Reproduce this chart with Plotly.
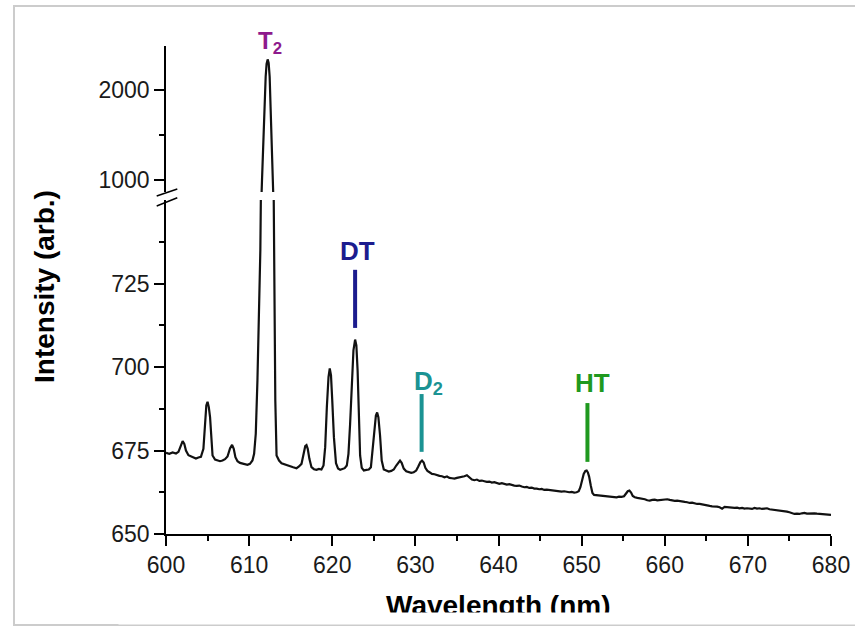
import plotly.graph_objects as go

# ---- data ----
wavelength = [
    600.0, 600.4, 600.8, 601.2, 601.5, 601.8, 602.0, 602.2, 602.4, 602.7,
    603.0, 603.3, 603.6, 603.9, 604.2, 604.5, 604.7, 604.85, 605.0, 605.15,
    605.3, 605.45, 605.6, 605.9, 606.2, 606.5, 606.8, 607.1, 607.4, 607.7,
    607.95, 608.15, 608.35, 608.6, 608.9, 609.2, 609.5, 609.8, 610.1, 610.4,
    610.6, 610.8, 611.0, 611.2, 611.35, 611.47, 611.55, 611.64, 611.7, 611.87,
    611.99, 612.1, 612.23, 612.35, 612.47, 612.58, 612.7, 612.77, 612.84, 612.93,
    613.05, 613.15, 613.3, 613.6, 613.9, 614.2, 614.5, 614.9, 615.3, 615.7,
    616.0, 616.3, 616.55, 616.75, 616.9, 617.05, 617.25, 617.5, 617.8, 618.1,
    618.4, 618.7, 618.95, 619.15, 619.35, 619.55, 619.7, 619.85, 620.0, 620.2,
    620.45, 620.7, 620.95, 621.2, 621.5, 621.75, 621.95, 622.15, 622.35, 622.55,
    622.75, 622.9, 623.05, 623.2, 623.35, 623.55, 623.8, 624.1, 624.4, 624.65,
    624.85, 625.05, 625.25, 625.4, 625.55, 625.75, 625.95, 626.2, 626.5, 626.8,
    627.1, 627.4, 627.7, 627.95, 628.15, 628.35, 628.6, 628.9, 629.2, 629.5,
    629.8, 630.1, 630.35, 630.6, 630.8, 631.0, 631.2, 631.45, 631.7, 632.0,
    632.3, 632.6, 632.9, 633.2, 633.5, 633.8, 634.1, 634.4, 634.7, 635.0,
    635.3, 635.6, 635.9, 636.2, 636.5, 636.8, 637.1, 637.4, 637.7, 638.0,
    638.3, 638.6, 638.9, 639.2, 639.5, 639.8, 640.1, 640.4, 640.7, 641.0,
    641.3, 641.6, 641.9, 642.2, 642.5, 642.8, 643.1, 643.4, 643.7, 644.0,
    644.3, 644.6, 644.9, 645.2, 645.5, 645.8, 646.1, 646.4, 646.7, 647.0,
    647.3, 647.6, 647.9, 648.2, 648.5, 648.8, 649.1, 649.4, 649.65, 649.85,
    650.05, 650.25, 650.45, 650.6, 650.75, 650.9, 651.1, 651.3, 651.5, 651.8,
    652.1, 652.4, 652.7, 653.0, 653.3, 653.6, 653.9, 654.2, 654.5, 654.8,
    655.1, 655.35, 655.55, 655.75, 655.95, 656.15, 656.4, 656.7, 657.0, 657.3,
    657.6, 657.9, 658.2, 658.5, 658.8, 659.1, 659.4, 659.7, 660.0, 660.3,
    660.6, 660.9, 661.2, 661.5, 661.8, 662.1, 662.4, 662.7, 663.0, 663.3,
    663.6, 663.9, 664.2, 664.5, 664.8, 665.1, 665.4, 665.7, 666.0, 666.3,
    666.6, 666.9, 667.2, 667.5, 667.8, 668.1, 668.4, 668.7, 669.0, 669.3,
    669.6, 669.9, 670.2, 670.5, 670.8, 671.1, 671.4, 671.7, 672.0, 672.3,
    672.6, 672.9, 673.2, 673.5, 673.8, 674.1, 674.4, 674.7, 675.0, 675.3,
    675.6, 675.9, 676.2, 676.5, 676.8, 677.1, 677.4, 677.7, 678.0, 678.3,
    678.6, 678.9, 679.2, 679.5, 679.8, 680.0,
]
intensity = [
    674.3, 674.0, 674.4, 674.1, 674.6, 676.8, 677.8, 677.0, 675.0, 673.6,
    673.2, 672.8, 672.6, 672.9, 673.1, 675.5, 684.0, 688.5, 689.6, 688.0,
    685.0, 679.0, 673.5, 672.3, 672.0, 671.8, 672.0, 672.4, 673.2, 675.6,
    676.7, 675.5, 673.0, 671.8, 671.3, 671.1, 670.8, 670.7, 671.0, 672.0,
    674.0, 680.0, 696.0, 722.0, 735.0, 765.0, 1000.0, 1259.0, 1481.0, 1814.0,
    2148.0, 2290.0, 2340.0, 2300.0, 2148.0, 1814.0, 1481.0, 1259.0, 1000.0, 760.0,
    720.0, 690.0, 673.5, 672.0, 671.2, 670.9, 670.6, 670.4, 670.0, 669.7,
    670.2, 671.0, 674.0, 676.3, 676.6, 675.5, 672.5, 670.0, 669.4, 669.2,
    669.5, 669.3, 670.5, 676.0, 688.0, 697.0, 699.6, 697.5, 690.0, 679.0,
    671.2, 669.6, 669.2, 669.4, 669.7, 670.5, 674.0, 683.0, 697.0, 705.0,
    708.2, 706.5, 699.0, 685.0, 673.5, 669.8, 669.0, 669.2, 669.3, 670.0,
    675.0, 681.5, 685.5, 686.4, 685.0, 679.5, 672.0, 669.3, 668.9, 668.7,
    668.9, 669.3, 670.5, 671.5, 672.0, 671.3, 669.6, 668.8, 668.6, 668.3,
    668.5, 669.0, 670.2, 671.5, 672.0, 671.4, 669.8, 668.9, 668.5, 668.0,
    667.9, 667.6, 667.4, 667.3, 667.0, 667.2, 666.8, 666.7, 666.6, 666.8,
    666.9, 667.0, 667.3, 667.6, 666.9, 666.3, 666.1, 666.3, 665.9, 666.0,
    665.8, 665.6, 665.7, 665.4, 665.5, 665.2, 665.0, 665.2, 664.9, 664.8,
    664.9, 664.6, 664.5, 664.4, 664.5, 664.2, 664.0, 664.1, 663.8, 663.9,
    663.6, 663.6, 663.4, 663.5, 663.2, 663.3, 663.2, 663.0, 662.9, 663.0,
    662.8, 662.7, 662.8, 662.6, 662.5, 662.6, 662.4, 662.5, 662.8, 664.0,
    666.0, 668.0, 668.9, 669.0, 668.4, 667.2, 664.5, 662.3, 661.7, 661.6,
    661.5, 661.4, 661.4, 661.2, 661.3, 661.1, 661.0, 661.0, 661.2, 661.1,
    661.3, 662.0, 662.8, 663.0, 662.4, 661.4, 661.0, 660.8, 660.7, 660.6,
    660.4, 660.1, 660.0, 660.2, 660.3, 660.1, 660.2, 660.4, 660.3, 660.4,
    660.2, 660.0, 659.9, 660.0, 659.8, 659.7, 659.6, 659.5, 659.3, 659.4,
    659.1, 659.0, 659.0, 658.8, 658.6, 658.6, 658.4, 658.3, 658.3, 658.2,
    658.0, 657.6, 658.1, 658.0, 657.9, 657.9, 657.8, 657.9, 657.7, 657.8,
    657.6, 657.7, 657.7, 657.5, 657.8, 657.6, 657.7, 657.5, 657.6, 657.7,
    657.4, 657.3, 657.2, 657.3, 657.0, 657.0, 656.9, 656.7, 656.5, 656.3,
    656.0, 656.1, 656.0, 656.2, 656.3, 656.1, 656.2, 656.3, 656.2, 656.1,
    656.0, 655.9, 655.8, 655.8, 655.6, 655.7,
]

x_ticks = [600, 610, 620, 630, 640, 650, 660, 670, 680]
y_low_ticks = [650, 675, 700, 725]
y_high_ticks = [1000, 2000]

# labelled lines: name, colour, wavelength of marker line
label_names = ["DT", "D<sub>2</sub>", "HT"]
label_colors = ["#1c1c8e", "#1b9393", "#1f991f"]
label_wl = [622.75, 630.75, 650.7]

FONT = "Arial, Liberation Sans, sans-serif"

# pixel -> paper helpers (plot area: x 166..831, y 46..534)
L, R, T, B = 166, 831, 46, 534
def px(xp):
    return (xp - L) / (R - L)
def py(yp):
    return (B - yp) / (B - T)

fig = go.Figure()
for ax in ["y", "y2"]:
    fig.add_trace(go.Scatter(
        x=wavelength, y=intensity, mode="lines", yaxis=ax, xaxis="x",
        line=dict(color="#111111", width=2.2), showlegend=False, hoverinfo="skip"))

axis_common = dict(showline=True, linecolor="black", linewidth=1.5,
                   ticks="outside", ticklen=10, tickwidth=1.5, tickcolor="black",
                   showgrid=False, zeroline=False, automargin=False,
                   tickfont=dict(family=FONT, size=23, color="#1a1a1a"))

fig.update_layout(
    width=855, height=629, autosize=False,
    margin=dict(l=L, r=855 - R, t=T, b=629 - B, pad=0),
    paper_bgcolor="white", plot_bgcolor="white",
    xaxis=dict(range=[600, 680], tickvals=x_ticks, anchor="y",
               minor=dict(dtick=5, tick0=600, ticks="outside", ticklen=5,
                          tickwidth=1.5, tickcolor="black", showgrid=False),
               **axis_common),
    yaxis=dict(range=[650, 750], domain=[0, py(200)], tickvals=y_low_ticks,
               anchor="x",
               minor=dict(tickvals=[662.5, 687.5, 712.5, 737.5], ticks="outside",
                          ticklen=5, tickwidth=1.5, tickcolor="black",
                          showgrid=False),
               **axis_common),
    yaxis2=dict(range=[867, 2489], domain=[py(192), 1], tickvals=y_high_ticks,
                anchor="x",
                minor=dict(tickvals=[1500], ticks="outside", ticklen=5,
                           tickwidth=1.5, tickcolor="black", showgrid=False),
                **axis_common),
)

shapes = []
# frame around the picture
shapes.append(dict(type="rect", xref="paper", yref="paper",
                   x0=px(14), x1=px(870), y0=py(625), y1=py(6),
                   line=dict(color="#cccccc", width=2), layer="below"))
# axis break marks
for y0, y1 in [(196, 189), (206, 197.7)]:
    shapes.append(dict(type="line", xref="paper", yref="paper",
                       x0=px(156.7), x1=px(177.3), y0=py(y0), y1=py(y1),
                       line=dict(color="black", width=1.5)))
# label marker lines (lower axis coordinates)
line_spans = [(711.7, 729.1), (674.6, 691.9), (671.6, 689.2)]
for wl, c, (a, b) in zip(label_wl, label_colors, line_spans):
    shapes.append(dict(type="line", xref="x", yref="y", x0=wl, x1=wl, y0=a, y1=b,
                       line=dict(color=c, width=4)))
fig.update_layout(shapes=shapes)

ann = []
# peak labels
ann.append(dict(text="<b>T<sub>2</sub></b>", x=612.57, y=py(42), xref="x", yref="paper",
                xanchor="center", yanchor="middle",
                showarrow=False, font=dict(family=FONT, size=24, color="#8e1a8c")))
label_pos = [(357, 251), (428, 382), (592.5, 383)]
for name, c, (xp, yp) in zip(label_names, label_colors, label_pos):
    ann.append(dict(text="<b>%s</b>" % name, x=px(xp), y=py(yp), xref="paper",
                    yref="paper", xanchor="center", yanchor="middle",
                    showarrow=False,
                    font=dict(family=FONT, size=26, color=c)))
# axis titles
ann.append(dict(text="<b>Intensity (arb.)</b>", x=px(44), y=py(287), xref="paper",
                yref="paper", xanchor="center", yanchor="middle",
                textangle=-90, showarrow=False,
                font=dict(family=FONT, size=28, color="black")))
ann.append(dict(text="<b>Wavelength (nm)</b>", x=0.5, y=py(605), xref="paper",
                yref="paper", xanchor="center", yanchor="middle", showarrow=False,
                font=dict(family=FONT, size=28, color="black")))
# the original picture is cropped through the bottom of the x title
ann.append(dict(text=" ", x=0.5, y=py(612), xref="paper", yref="paper",
                xanchor="center", yanchor="top", showarrow=False,
                bgcolor="white", width=760, height=11, borderpad=0,
                font=dict(size=8)))
fig.update_layout(annotations=ann)

fig.write_html(
    "out.html",
    config={"displayModeBar": False},
    post_script="document.body.style.margin='0';document.body.style.overflow='hidden';",
)
